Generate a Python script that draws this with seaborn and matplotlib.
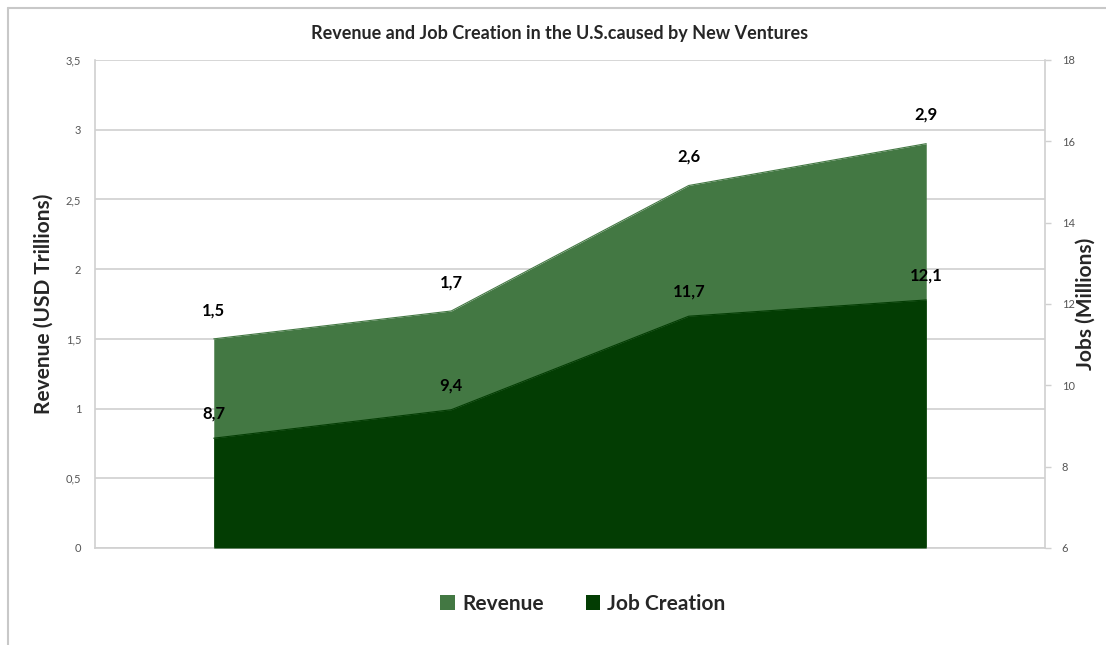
import matplotlib
matplotlib.use("Agg")
import matplotlib.pyplot as plt
from matplotlib.lines import Line2D
from matplotlib.patches import Patch
import seaborn as sns
import pandas as pd

periods = ["P1", "P2", "P3", "P4"]
revenue = [1.5, 1.7, 2.6, 2.9]
jobs = [8.7, 9.4, 11.7, 12.1]
revenue_labels = ["1,5", "1,7", "2,6", "2,9"]
jobs_labels = ["8,7", "9,4", "11,7", "12,1"]
left_ticks = [0, 0.5, 1, 1.5, 2, 2.5, 3, 3.5]
left_tick_labels = ["0", "0,5", "1", "1,5", "2", "2,5", "3", "3,5"]
right_ticks = [6, 8, 10, 12, 14, 16, 18]

sns.set_theme(style="white")
plt.rcParams["font.family"] = ["Lato", "DejaVu Sans"]

REV_COLOR = "#437843"
JOB_COLOR = "#033d03"
GRID = "#d0d0d0"

df = pd.DataFrame({"x": range(len(periods)), "revenue": revenue, "jobs": jobs})

fig = plt.figure(figsize=(11.06, 6.45), dpi=100)
ax = fig.add_axes([95 / 1106, 1 - 548 / 645, 950 / 1106, 488 / 645])
ax2 = ax.twinx()

# revenue area on the left axis
sns.lineplot(data=df, x="x", y="revenue", ax=ax, color=REV_COLOR, linewidth=0.8)
ax.fill_between(df["x"], 0, df["revenue"], color=REV_COLOR, linewidth=0)
ax.set_xlim(-0.5, len(periods) - 0.5)
ax.set_ylim(0, 3.5)
ax.set_yticks(left_ticks)
ax.set_yticklabels(left_tick_labels)
ax.yaxis.grid(True, color=GRID, linewidth=1.2)
ax.set_axisbelow(True)
ax.set_xticks([])
ax.set_xlabel("")
ax.set_ylabel("Revenue (USD Trillions)", fontsize=15, fontweight="bold")
ax.yaxis.set_label_coords(-0.044, 0.5)

# job creation area on the right axis
sns.lineplot(data=df, x="x", y="jobs", ax=ax2, color=JOB_COLOR, linewidth=0.8)
ax2.fill_between(df["x"], 6, df["jobs"], color=JOB_COLOR, linewidth=0)
ax2.set_ylim(6, 18)
ax2.set_yticks(right_ticks)
ax2.set_ylabel("Jobs (Millions)", fontsize=15, fontweight="bold")
ax2.yaxis.set_label_coords(1.0326, 0.5)

for a in (ax, ax2):
    for side in ("top", "bottom", "left", "right"):
        a.spines[side].set_color(GRID)
        a.spines[side].set_linewidth(1.2)
    a.spines["top"].set_visible(False)
ax2.spines["left"].set_visible(False)
ax2.spines["bottom"].set_visible(False)
ax.spines["right"].set_visible(False)

ax.tick_params(axis="y", labelsize=8, labelcolor="#555555", length=0, pad=10)
ax2.tick_params(axis="y", labelsize=8, labelcolor="#555555", length=4, width=1,
                color=GRID, pad=8, right=True)

# value labels
for i, (v, t) in enumerate(zip(revenue, revenue_labels)):
    ax.annotate(t, (i, v), xytext=(0, 15), textcoords="offset points",
                ha="center", va="bottom", fontsize=12, fontweight="bold", color="black")
for i, (v, t) in enumerate(zip(jobs, jobs_labels)):
    ax2.annotate(t, (i, v), xytext=(0, 12), textcoords="offset points",
                 ha="center", va="bottom", fontsize=12, fontweight="bold", color="black")

fig.text(560 / 1106, 1 - 33 / 645, "Revenue and Job Creation in the U.S.caused by New Ventures",
         ha="center", va="center", fontsize=13, fontweight="bold")

handles = [Patch(facecolor=REV_COLOR, edgecolor="none", label="Revenue"),
           Patch(facecolor=JOB_COLOR, edgecolor="none", label="Job Creation")]
fig.legend(handles=handles, loc="center", bbox_to_anchor=(583 / 1106, 1 - 604 / 645),
           ncol=2, frameon=False, prop={"size": 15, "weight": "bold"},
           handlelength=0.7, handleheight=0.7, columnspacing=2.0, handletextpad=0.35)

# outer frame
fig.add_artist(Line2D([8 / 1106, 1], [1 - 8 / 645, 1 - 8 / 645], color="#c8c8c8", linewidth=1.5))
fig.add_artist(Line2D([8 / 1106, 8 / 1106], [0, 1 - 8 / 645], color="#c8c8c8", linewidth=1.5))

fig.savefig("out.png", dpi=100, facecolor="white")
